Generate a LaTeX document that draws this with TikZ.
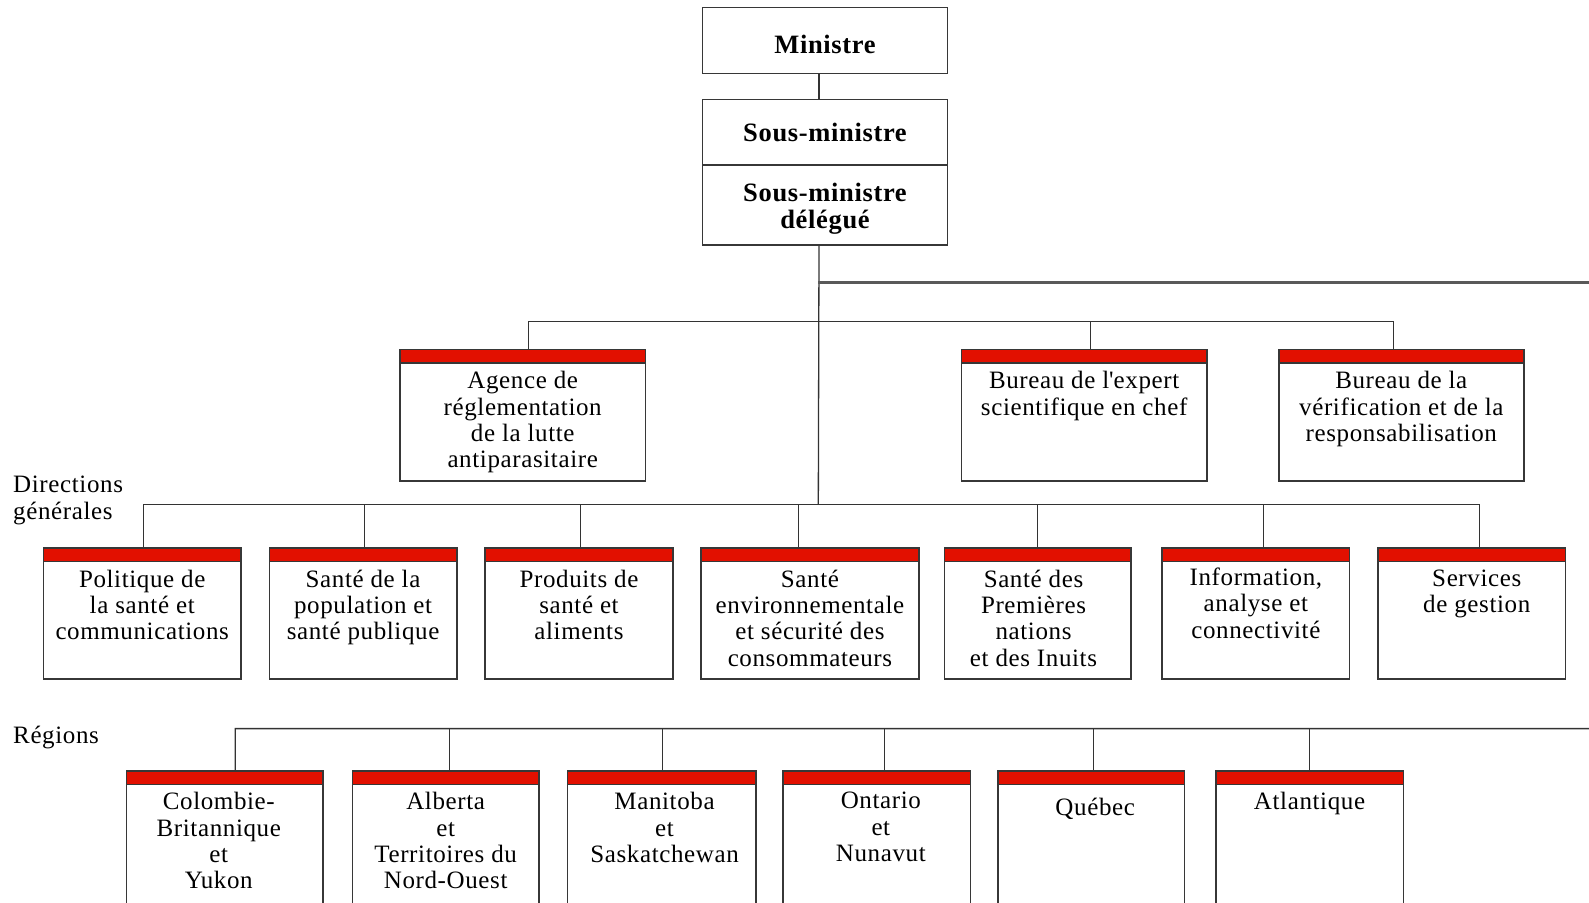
\documentclass[tikz,border=0pt]{standalone}
\usepackage{fontspec}
\setmainfont{Liberation Serif}[LetterSpace=2.5]
\usetikzlibrary{positioning}
\definecolor{barred}{RGB}{226,16,0}
\definecolor{edge}{RGB}{55,55,55}

\begin{document}
\begin{tikzpicture}[x=1pt,y=-1pt,
		wire/.style={draw=black!80,line width=1.3pt},
		trunkwire/.style={draw=black!65,line width=2.6pt},
		boss/.style={draw=edge,line width=1.6pt,anchor=north west,inner sep=0pt,
			minimum width=245pt,align=center,font=\fontsize{26.5}{27}\selectfont\bfseries},
		unit/.style={draw=edge,fill=white,line width=1.6pt,anchor=north west,inner sep=0pt,
			minimum width=186.5pt,minimum height=131pt,
			path picture={
				\fill[barred] (path picture bounding box.north west) rectangle ([yshift=-13.3pt]path picture bounding box.north east);
				\draw[edge,line width=1.6pt] ([yshift=-13.3pt]path picture bounding box.north west) -- ([yshift=-13.3pt]path picture bounding box.north east);}},
		txt/.style={font=\fontsize{25}{26.3}\selectfont,align=center,inner sep=0pt,
			execute at begin node=\strut}]

	\useasboundingbox (0,0) rectangle (1589,902);

	% top
	\node[boss,minimum height=66pt,text height=26pt,text depth=0pt] (min) at (701.7,6.7) {Ministre};
	\node[boss,minimum height=65.6pt] (sm) at (701.7,98.7) {Sous-ministre};
	\node[boss,minimum height=80pt] (smd) at (701.7,164.3) {\rule{0pt}{26pt}Sous-ministre\\délégué};

	% bureaux
	\node[unit,minimum width=245.2pt,minimum height=131.7pt] (agence) at (399.3,348.6) {};
	\node[unit,minimum width=245.3pt,minimum height=131.7pt] (expert) at (960.7,348.6) {};
	\node[unit,minimum width=245.2pt,minimum height=131.7pt] (verif) at (1277.9,348.6) {};

	\node[txt,below=22.6pt of agence.north] {Agence de\\réglementation\\de la lutte\\antiparasitaire};
	\node[txt,below=22.6pt of expert.north] {Bureau de l\textquotesingle expert\\scientifique en chef};
	\node[txt,below=22.6pt of verif.north] {Bureau de la\\vérification et de la\\responsabilisation};

	% directions generales
	\node[txt,align=left,anchor=north west] (dglbl) at (13,476) {Directions\\générales};
	\node[unit,minimum width=197.6pt] (pol) at (42.6,547.2) {};
	\node[unit,minimum width=187.5pt] (popu) at (268.5,547.2) {};
	\node[unit,minimum width=187.5pt] (prod) at (484.4,547.2) {};
	\node[unit,minimum width=217.9pt] (env) at (700.2,547.2) {};
	\node[unit,minimum width=186.4pt] (pnai) at (943.5,547.2) {};
	\node[unit,minimum width=187.5pt] (info) at (1161.3,547.2) {};
	\node[unit,minimum width=187.5pt] (serv) at (1377.2,547.2) {};

	\node[txt,below=22.6pt of pol.north] {Politique de\\la santé et\\communications};
	\node[txt,below=22.6pt of popu.north] {Santé de la\\population et\\santé publique};
	\node[txt,below=22.6pt of prod.north] {Produits de\\santé et\\aliments};
	\node[txt,below=22.6pt of env.north] {Santé\\environnementale\\et sécurité des\\consommateurs};
	\node[txt,below=22.6pt of pnai.north,xshift=-4pt] {Santé des\\Premières\\nations\\et des Inuits};
	\node[txt,below=20.5pt of info.north] {Information,\\analyse et\\connectivité};
	\node[txt,below=22.6pt of serv.north,xshift=5pt] {Services\\de gestion};

	% regions
	\node[txt,anchor=north west] (rglbl) at (13,724.4) {Régions};
	\node[unit,minimum width=196.6pt,minimum height=140pt] (cb) at (125.7,770.2) {};
	\node[unit,minimum height=140pt] (ab) at (351.6,770.2) {};
	\node[unit,minimum width=188.5pt,minimum height=140pt] (mb) at (566.5,770.2) {};
	\node[unit,minimum width=187.5pt,minimum height=140pt] (on) at (782.3,770.2) {};
	\node[unit,minimum width=186.4pt,minimum height=140pt] (qc) at (997.2,770.2) {};
	\node[unit,minimum width=187.5pt,minimum height=140pt] (atl) at (1215,770.2) {};

	\node[txt,below=22pt of cb.north,xshift=-6pt] {Colombie-\\Britannique\\et\\Yukon};
	\node[txt,below=22pt of ab.north] {Alberta\\et\\Territoires du\\Nord-Ouest};
	\node[txt,below=22pt of mb.north,xshift=3pt] {Manitoba\\et\\Saskatchewan};
	\node[txt,below=22pt of on.north,xshift=4pt] {Ontario\\et\\Nunavut};
	\node[txt,below=27pt of qc.north,xshift=4pt] {Québec};
	\node[txt,below=20.5pt of atl.north] {Atlantique};

	% connectors
	\coordinate (trunk) at (818.3,504.7);
	\coordinate (rightA) at (1589,282.7);
	\coordinate (rightB) at (1589,728.6);

	\draw[wire] ([xshift=-6pt]min.south) -- ([xshift=-6pt]sm.north);
	\draw[wire] ([xshift=-6pt]smd.south) -- (trunk);
	\draw[trunkwire] (trunk |- rightA) -- (rightA);

	\draw[wire] ([xshift=6pt]agence.north) -- ++(0,-27.4) -| ([xshift=-8pt]verif.north);
	\draw[wire] ([xshift=6pt]expert.north) -- ++(0,-27.4);

	\draw[wire] ([xshift=1.5pt]pol.north) -- ++(0,-42.5) -| ([xshift=7.5pt]serv.north);
	\foreach \n/\d in {popu/1.5,prod/1.5,env/-11.7,pnai/0,info/7.7}
		\draw[wire] ([xshift=\d pt]\n.north) -- ++(0,-42.5);

	\draw[wire] ([xshift=10.4pt]cb.north) -- ++(0,-41.6) -- (rightB);
	\foreach \n/\d in {ab/4,mb/1,on/7.7,qc/2,atl/0.2}
		\draw[wire] ([xshift=\d pt]\n.north) -- ++(0,-41.6);

\end{tikzpicture}
\end{document}
